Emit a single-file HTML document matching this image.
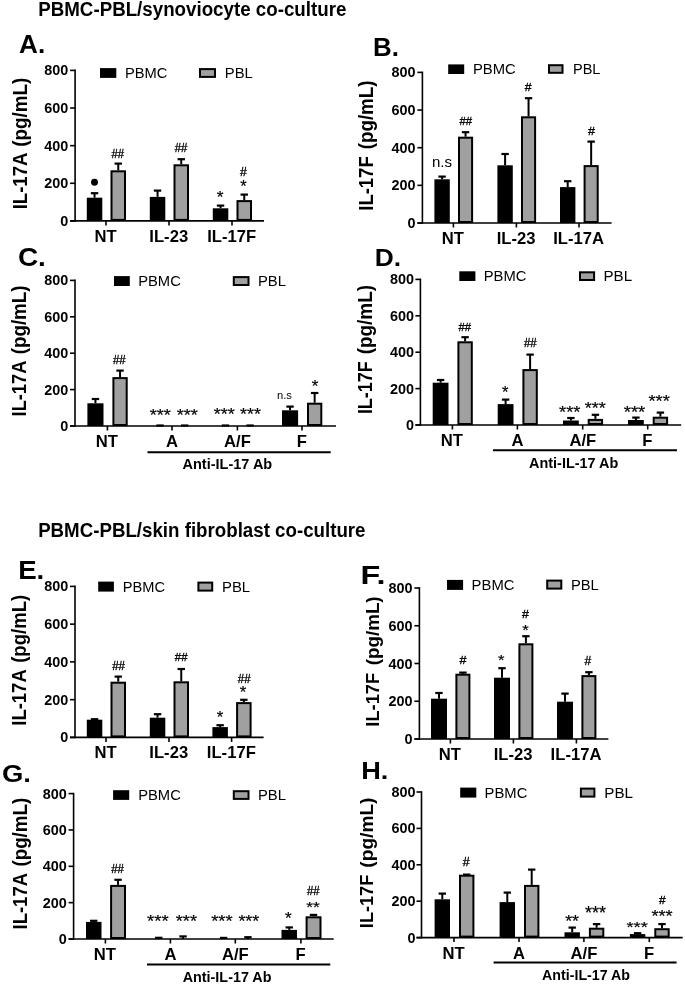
<!DOCTYPE html>
<html><head><meta charset="utf-8"><style>
html,body{margin:0;padding:0;background:#fff;}
body{width:685px;height:985px;overflow:hidden;}
svg{display:block;font-family:"Liberation Sans", sans-serif;will-change:transform;}
</style></head><body>
<svg width="685" height="985" viewBox="0 0 685 985">

<line x1="75.1" y1="69.6" x2="75.1" y2="221.7" stroke="#000" stroke-width="1.6"/>
<line x1="70.1" y1="220.9" x2="75.1" y2="220.9" stroke="#000" stroke-width="1.6"/>
<line x1="70.1" y1="183.28" x2="75.1" y2="183.28" stroke="#000" stroke-width="1.6"/>
<line x1="70.1" y1="145.65" x2="75.1" y2="145.65" stroke="#000" stroke-width="1.6"/>
<line x1="70.1" y1="108.03" x2="75.1" y2="108.03" stroke="#000" stroke-width="1.6"/>
<line x1="70.1" y1="70.4" x2="75.1" y2="70.4" stroke="#000" stroke-width="1.6"/>
<line x1="70.1" y1="220.9" x2="264" y2="220.9" stroke="#000" stroke-width="1.6"/>
<line x1="106" y1="220.9" x2="106" y2="225.4" stroke="#000" stroke-width="1.6"/>
<line x1="169" y1="220.9" x2="169" y2="225.4" stroke="#000" stroke-width="1.6"/>
<line x1="232" y1="220.9" x2="232" y2="225.4" stroke="#000" stroke-width="1.6"/>
<text transform="translate(60.27,225.95) scale(0.9810,1)" font-size="14.700" font-weight="bold" fill="#000">0</text>
<text transform="translate(44.23,188.33) scale(0.9810,1)" font-size="14.700" font-weight="bold" fill="#000">200</text>
<text transform="translate(44.23,150.7) scale(0.9810,1)" font-size="14.700" font-weight="bold" fill="#000">400</text>
<text transform="translate(44.23,113.08) scale(0.9810,1)" font-size="14.700" font-weight="bold" fill="#000">600</text>
<text transform="translate(44.23,75.45) scale(0.9810,1)" font-size="14.700" font-weight="bold" fill="#000">800</text>
<line x1="94.55" y1="193.2" x2="94.55" y2="197.7" stroke="#000" stroke-width="2.0"/>
<line x1="90.85" y1="193.2" x2="98.25" y2="193.2" stroke="#000" stroke-width="2.2"/>
<rect x="87.8" y="198.7" width="13.5" height="21.2" fill="#000" stroke="#000" stroke-width="2.0"/>
<line x1="118.25" y1="163.6" x2="118.25" y2="170.3" stroke="#000" stroke-width="2.0"/>
<line x1="114.55" y1="163.6" x2="121.95" y2="163.6" stroke="#000" stroke-width="2.2"/>
<rect x="111.5" y="171.3" width="13.5" height="48.6" fill="#a0a0a0" stroke="#000" stroke-width="2.0"/>
<line x1="157.55" y1="190.6" x2="157.55" y2="196.9" stroke="#000" stroke-width="2.0"/>
<line x1="153.85" y1="190.6" x2="161.25" y2="190.6" stroke="#000" stroke-width="2.2"/>
<rect x="150.8" y="197.9" width="13.5" height="22" fill="#000" stroke="#000" stroke-width="2.0"/>
<line x1="181.25" y1="159.2" x2="181.25" y2="164.3" stroke="#000" stroke-width="2.0"/>
<line x1="177.55" y1="159.2" x2="184.95" y2="159.2" stroke="#000" stroke-width="2.2"/>
<rect x="174.5" y="165.3" width="13.5" height="54.6" fill="#a0a0a0" stroke="#000" stroke-width="2.0"/>
<line x1="220.55" y1="205.6" x2="220.55" y2="208.3" stroke="#000" stroke-width="2.0"/>
<line x1="216.85" y1="205.6" x2="224.25" y2="205.6" stroke="#000" stroke-width="2.2"/>
<rect x="213.8" y="209.3" width="13.5" height="10.6" fill="#000" stroke="#000" stroke-width="2.0"/>
<line x1="244.25" y1="194.6" x2="244.25" y2="200.1" stroke="#000" stroke-width="2.0"/>
<line x1="240.55" y1="194.6" x2="247.95" y2="194.6" stroke="#000" stroke-width="2.2"/>
<rect x="237.5" y="201.1" width="13.5" height="18.8" fill="#a0a0a0" stroke="#000" stroke-width="2.0"/>
<rect x="101" y="69.1" width="14.3" height="7.8" fill="#000" stroke="#000" stroke-width="2.0"/>
<rect x="200" y="69.1" width="15" height="7.8" fill="#a0a0a0" stroke="#000" stroke-width="2.0"/>
<text transform="translate(124.98,77.9) scale(0.9928,1)" font-size="14.836" font-weight="normal">PBMC</text>
<text transform="translate(224.77,77.9) scale(1.0025,1)" font-size="14.836" font-weight="normal">PBL</text>
<text transform="translate(94.43,242.4) scale(0.9700,1)" font-size="17.164" font-weight="bold">NT</text>
<text transform="translate(149.31,242.4) scale(0.9700,1)" font-size="17.164" font-weight="bold">IL-23</text>
<text transform="translate(207.21,242.4) scale(0.9700,1)" font-size="17.164" font-weight="bold">IL-17F</text>
<text transform="translate(26.5,209.35) rotate(-90) scale(0.9317,1)" font-size="19.927" font-weight="bold">IL-17A</text>
<text transform="translate(26.5,146.74) rotate(-90) scale(0.9445,1)" font-size="19.927" font-weight="bold">(pg/mL)</text>
<text transform="translate(19.05,52.5) scale(0.9811,1)" font-size="26.618" font-weight="bold" fill="#000">A.</text>
<circle cx="94.5" cy="182.2" r="3.45" fill="#000"/>
<text transform="translate(111.54,157.7) scale(0.9137,1)" font-size="12.409" font-weight="normal" fill="#000" stroke="#000" stroke-width="0.35">##</text>
<text transform="translate(174.64,152.3) scale(0.9471,1)" font-size="11.971" font-weight="normal" fill="#000" stroke="#000" stroke-width="0.35">##</text>
<text transform="translate(216.69,202.89) scale(1.0539,1)" font-size="16.571" font-weight="normal" fill="#000" stroke="#000" stroke-width="0.2">*</text>
<text transform="translate(240.21,192.3) scale(1.0205,1)" font-size="16.286" font-weight="normal" fill="#000" stroke="#000" stroke-width="0.2">*</text>
<text transform="translate(240.04,175.6) scale(1.0100,1)" font-size="12.117" font-weight="normal" fill="#000" stroke="#000" stroke-width="0.35">#</text>
<line x1="422.4" y1="71.6" x2="422.4" y2="223.8" stroke="#000" stroke-width="1.6"/>
<line x1="417.4" y1="223" x2="422.4" y2="223" stroke="#000" stroke-width="1.6"/>
<line x1="417.4" y1="185.35" x2="422.4" y2="185.35" stroke="#000" stroke-width="1.6"/>
<line x1="417.4" y1="147.7" x2="422.4" y2="147.7" stroke="#000" stroke-width="1.6"/>
<line x1="417.4" y1="110.05" x2="422.4" y2="110.05" stroke="#000" stroke-width="1.6"/>
<line x1="417.4" y1="72.4" x2="422.4" y2="72.4" stroke="#000" stroke-width="1.6"/>
<line x1="417.4" y1="223" x2="611.6" y2="223" stroke="#000" stroke-width="1.6"/>
<line x1="453.4" y1="223" x2="453.4" y2="227.5" stroke="#000" stroke-width="1.6"/>
<line x1="516.4" y1="223" x2="516.4" y2="227.5" stroke="#000" stroke-width="1.6"/>
<line x1="579" y1="223" x2="579" y2="227.5" stroke="#000" stroke-width="1.6"/>
<text transform="translate(407.57,228.05) scale(0.9810,1)" font-size="14.700" font-weight="bold" fill="#000">0</text>
<text transform="translate(391.53,190.4) scale(0.9810,1)" font-size="14.700" font-weight="bold" fill="#000">200</text>
<text transform="translate(391.53,152.75) scale(0.9810,1)" font-size="14.700" font-weight="bold" fill="#000">400</text>
<text transform="translate(391.53,115.1) scale(0.9810,1)" font-size="14.700" font-weight="bold" fill="#000">600</text>
<text transform="translate(391.53,77.45) scale(0.9810,1)" font-size="14.700" font-weight="bold" fill="#000">800</text>
<line x1="442.1" y1="176.6" x2="442.1" y2="179.3" stroke="#000" stroke-width="2.0"/>
<line x1="438.4" y1="176.6" x2="445.8" y2="176.6" stroke="#000" stroke-width="2.2"/>
<rect x="435.4" y="180.3" width="13.4" height="41.7" fill="#000" stroke="#000" stroke-width="2.0"/>
<line x1="465.55" y1="132.2" x2="465.55" y2="136.7" stroke="#000" stroke-width="2.0"/>
<line x1="461.85" y1="132.2" x2="469.25" y2="132.2" stroke="#000" stroke-width="2.2"/>
<rect x="459" y="137.7" width="13.1" height="84.3" fill="#a0a0a0" stroke="#000" stroke-width="2.0"/>
<line x1="505.1" y1="154" x2="505.1" y2="165.3" stroke="#000" stroke-width="2.0"/>
<line x1="501.4" y1="154" x2="508.8" y2="154" stroke="#000" stroke-width="2.2"/>
<rect x="498.4" y="166.3" width="13.4" height="55.7" fill="#000" stroke="#000" stroke-width="2.0"/>
<line x1="528.55" y1="98.2" x2="528.55" y2="116.3" stroke="#000" stroke-width="2.0"/>
<line x1="524.85" y1="98.2" x2="532.25" y2="98.2" stroke="#000" stroke-width="2.2"/>
<rect x="522" y="117.3" width="13.1" height="104.7" fill="#a0a0a0" stroke="#000" stroke-width="2.0"/>
<line x1="567.7" y1="181.2" x2="567.7" y2="187.1" stroke="#000" stroke-width="2.0"/>
<line x1="564" y1="181.2" x2="571.4" y2="181.2" stroke="#000" stroke-width="2.2"/>
<rect x="561" y="188.1" width="13.4" height="33.9" fill="#000" stroke="#000" stroke-width="2.0"/>
<line x1="591.15" y1="141.6" x2="591.15" y2="165.1" stroke="#000" stroke-width="2.0"/>
<line x1="587.45" y1="141.6" x2="594.85" y2="141.6" stroke="#000" stroke-width="2.2"/>
<rect x="584.6" y="166.1" width="13.1" height="55.9" fill="#a0a0a0" stroke="#000" stroke-width="2.0"/>
<rect x="449.2" y="65.4" width="14" height="7.6" fill="#000" stroke="#000" stroke-width="2.0"/>
<rect x="549" y="65.2" width="13.5" height="7.6" fill="#a0a0a0" stroke="#000" stroke-width="2.0"/>
<text transform="translate(472.98,74) scale(1.0201,1)" font-size="14.545" font-weight="normal">PBMC</text>
<text transform="translate(573,74) scale(0.9993,1)" font-size="14.545" font-weight="normal">PBL</text>
<text transform="translate(441.83,244.2) scale(0.9700,1)" font-size="17.164" font-weight="bold">NT</text>
<text transform="translate(496.71,244.2) scale(0.9700,1)" font-size="17.164" font-weight="bold">IL-23</text>
<text transform="translate(553.22,244.2) scale(0.9700,1)" font-size="17.164" font-weight="bold">IL-17A</text>
<text transform="translate(372.8,210.75) rotate(-90) scale(0.9424,1)" font-size="19.636" font-weight="bold">IL-17F</text>
<text transform="translate(372.8,149.24) rotate(-90) scale(0.9557,1)" font-size="19.636" font-weight="bold">(pg/mL)</text>
<text transform="translate(373.05,55.6) scale(0.9836,1)" font-size="26.327" font-weight="bold" fill="#000">B.</text>
<text transform="translate(431.88,166.96) scale(1.0459,1)" font-size="14.429" font-weight="normal" fill="#000">n.s</text>
<text transform="translate(459.44,125.2) scale(0.9588,1)" font-size="11.825" font-weight="normal" fill="#000" stroke="#000" stroke-width="0.35">##</text>
<text transform="translate(524.84,91.4) scale(1.0747,1)" font-size="11.387" font-weight="normal" fill="#000" stroke="#000" stroke-width="0.35">#</text>
<text transform="translate(588.04,135.1) scale(1.0658,1)" font-size="11.825" font-weight="normal" fill="#000" stroke="#000" stroke-width="0.35">#</text>
<line x1="75" y1="279.6" x2="75" y2="426.8" stroke="#000" stroke-width="1.6"/>
<line x1="70" y1="426" x2="75" y2="426" stroke="#000" stroke-width="1.6"/>
<line x1="70" y1="389.6" x2="75" y2="389.6" stroke="#000" stroke-width="1.6"/>
<line x1="70" y1="353.2" x2="75" y2="353.2" stroke="#000" stroke-width="1.6"/>
<line x1="70" y1="316.8" x2="75" y2="316.8" stroke="#000" stroke-width="1.6"/>
<line x1="70" y1="280.4" x2="75" y2="280.4" stroke="#000" stroke-width="1.6"/>
<line x1="70" y1="426" x2="336" y2="426" stroke="#000" stroke-width="1.6"/>
<line x1="107.4" y1="426" x2="107.4" y2="430.5" stroke="#000" stroke-width="1.6"/>
<line x1="172" y1="426" x2="172" y2="430.5" stroke="#000" stroke-width="1.6"/>
<line x1="237.4" y1="426" x2="237.4" y2="430.5" stroke="#000" stroke-width="1.6"/>
<line x1="302" y1="426" x2="302" y2="430.5" stroke="#000" stroke-width="1.6"/>
<text transform="translate(60.27,431.05) scale(0.9810,1)" font-size="14.700" font-weight="bold" fill="#000">0</text>
<text transform="translate(44.23,394.65) scale(0.9810,1)" font-size="14.700" font-weight="bold" fill="#000">200</text>
<text transform="translate(44.23,358.25) scale(0.9810,1)" font-size="14.700" font-weight="bold" fill="#000">400</text>
<text transform="translate(44.23,321.85) scale(0.9810,1)" font-size="14.700" font-weight="bold" fill="#000">600</text>
<text transform="translate(44.23,285.45) scale(0.9810,1)" font-size="14.700" font-weight="bold" fill="#000">800</text>
<line x1="95.45" y1="399" x2="95.45" y2="403.3" stroke="#000" stroke-width="2.0"/>
<line x1="91.75" y1="399" x2="99.15" y2="399" stroke="#000" stroke-width="2.2"/>
<rect x="88.4" y="404.3" width="14.1" height="20.7" fill="#000" stroke="#000" stroke-width="2.0"/>
<line x1="120.05" y1="370.6" x2="120.05" y2="377.1" stroke="#000" stroke-width="2.0"/>
<line x1="116.35" y1="370.6" x2="123.75" y2="370.6" stroke="#000" stroke-width="2.2"/>
<rect x="113.4" y="378.1" width="13.3" height="46.9" fill="#a0a0a0" stroke="#000" stroke-width="2.0"/>
<line x1="156.35" y1="425.5" x2="163.75" y2="425.5" stroke="#000" stroke-width="2.2"/>
<line x1="180.95" y1="425.5" x2="188.35" y2="425.5" stroke="#000" stroke-width="2.2"/>
<line x1="221.75" y1="425.5" x2="229.15" y2="425.5" stroke="#000" stroke-width="2.2"/>
<line x1="246.35" y1="425.5" x2="253.75" y2="425.5" stroke="#000" stroke-width="2.2"/>
<line x1="290.05" y1="406.6" x2="290.05" y2="410.3" stroke="#000" stroke-width="2.0"/>
<line x1="286.35" y1="406.6" x2="293.75" y2="406.6" stroke="#000" stroke-width="2.2"/>
<rect x="283" y="411.3" width="14.1" height="13.7" fill="#000" stroke="#000" stroke-width="2.0"/>
<line x1="314.65" y1="393" x2="314.65" y2="402.7" stroke="#000" stroke-width="2.0"/>
<line x1="310.95" y1="393" x2="318.35" y2="393" stroke="#000" stroke-width="2.2"/>
<rect x="308" y="403.7" width="13.3" height="21.3" fill="#a0a0a0" stroke="#000" stroke-width="2.0"/>
<rect x="115" y="277.1" width="13.8" height="7.9" fill="#000" stroke="#000" stroke-width="2.0"/>
<rect x="233.8" y="277.1" width="14.7" height="7.9" fill="#a0a0a0" stroke="#000" stroke-width="2.0"/>
<text transform="translate(138.18,285.9) scale(1.0051,1)" font-size="14.691" font-weight="normal">PBMC</text>
<text transform="translate(257.88,285.9) scale(1.0086,1)" font-size="14.691" font-weight="normal">PBL</text>
<text transform="translate(95.83,447.4) scale(0.9700,1)" font-size="17.164" font-weight="bold">NT</text>
<text transform="translate(166.01,447.4) scale(0.9700,1)" font-size="17.164" font-weight="bold">A</text>
<text transform="translate(224.08,447.4) scale(0.9700,1)" font-size="17.164" font-weight="bold">A/F</text>
<text transform="translate(296.65,447.4) scale(0.9700,1)" font-size="17.164" font-weight="bold">F</text>
<text transform="translate(26.4,416.43) rotate(-90) scale(0.9232,1)" font-size="19.782" font-weight="bold">IL-17A</text>
<text transform="translate(26.4,354.24) rotate(-90) scale(0.9486,1)" font-size="19.782" font-weight="bold">(pg/mL)</text>
<text transform="translate(17.88,266.03) scale(1.0541,1)" font-size="26.572" font-weight="bold" fill="#000">C.</text>
<line x1="147.5" y1="452.3" x2="330.7" y2="452.3" stroke="#000" stroke-width="2"/>
<text transform="translate(182.44,469.4) scale(0.9696,1)" font-size="14.982" font-weight="bold">Anti-IL-17 Ab</text>
<text transform="translate(113.04,364.1) scale(0.9137,1)" font-size="12.409" font-weight="normal" fill="#000" stroke="#000" stroke-width="0.35">##</text>
<text transform="translate(149.68,420.99) scale(1.0977,1)" font-size="16.571" font-weight="normal" fill="#000" stroke="#000" stroke-width="0.2">***</text>
<text transform="translate(176.68,420.99) scale(1.0977,1)" font-size="16.571" font-weight="normal" fill="#000" stroke="#000" stroke-width="0.2">***</text>
<text transform="translate(213.68,419.59) scale(1.0686,1)" font-size="16.857" font-weight="normal" fill="#000" stroke="#000" stroke-width="0.2">***</text>
<text transform="translate(240.09,419.59) scale(1.0581,1)" font-size="16.857" font-weight="normal" fill="#000" stroke="#000" stroke-width="0.2">***</text>
<text transform="translate(277.04,398.59) scale(1.0217,1)" font-size="10.959" font-weight="normal" fill="#000">n.s</text>
<text transform="translate(311.7,392.29) scale(0.9859,1)" font-size="17.143" font-weight="normal" fill="#000" stroke="#000" stroke-width="0.2">*</text>
<line x1="420.4" y1="278.6" x2="420.4" y2="425.8" stroke="#000" stroke-width="1.6"/>
<line x1="415.4" y1="425" x2="420.4" y2="425" stroke="#000" stroke-width="1.6"/>
<line x1="415.4" y1="388.6" x2="420.4" y2="388.6" stroke="#000" stroke-width="1.6"/>
<line x1="415.4" y1="352.2" x2="420.4" y2="352.2" stroke="#000" stroke-width="1.6"/>
<line x1="415.4" y1="315.8" x2="420.4" y2="315.8" stroke="#000" stroke-width="1.6"/>
<line x1="415.4" y1="279.4" x2="420.4" y2="279.4" stroke="#000" stroke-width="1.6"/>
<line x1="415.4" y1="425" x2="681.2" y2="425" stroke="#000" stroke-width="1.6"/>
<line x1="452.4" y1="425" x2="452.4" y2="429.5" stroke="#000" stroke-width="1.6"/>
<line x1="517.4" y1="425" x2="517.4" y2="429.5" stroke="#000" stroke-width="1.6"/>
<line x1="582.7" y1="425" x2="582.7" y2="429.5" stroke="#000" stroke-width="1.6"/>
<line x1="647.7" y1="425" x2="647.7" y2="429.5" stroke="#000" stroke-width="1.6"/>
<text transform="translate(405.97,430.05) scale(0.9810,1)" font-size="14.700" font-weight="bold" fill="#000">0</text>
<text transform="translate(389.93,393.65) scale(0.9810,1)" font-size="14.700" font-weight="bold" fill="#000">200</text>
<text transform="translate(389.93,357.25) scale(0.9810,1)" font-size="14.700" font-weight="bold" fill="#000">400</text>
<text transform="translate(389.93,320.85) scale(0.9810,1)" font-size="14.700" font-weight="bold" fill="#000">600</text>
<text transform="translate(389.93,284.45) scale(0.9810,1)" font-size="14.700" font-weight="bold" fill="#000">800</text>
<line x1="440.6" y1="380" x2="440.6" y2="382.7" stroke="#000" stroke-width="2.0"/>
<line x1="436.9" y1="380" x2="444.3" y2="380" stroke="#000" stroke-width="2.2"/>
<rect x="433.7" y="383.7" width="13.8" height="40.3" fill="#000" stroke="#000" stroke-width="2.0"/>
<line x1="465.1" y1="337.2" x2="465.1" y2="341.3" stroke="#000" stroke-width="2.0"/>
<line x1="461.4" y1="337.2" x2="468.8" y2="337.2" stroke="#000" stroke-width="2.2"/>
<rect x="458.4" y="342.3" width="13.4" height="81.7" fill="#a0a0a0" stroke="#000" stroke-width="2.0"/>
<line x1="505.6" y1="399.6" x2="505.6" y2="404.1" stroke="#000" stroke-width="2.0"/>
<line x1="501.9" y1="399.6" x2="509.3" y2="399.6" stroke="#000" stroke-width="2.2"/>
<rect x="498.7" y="405.1" width="13.8" height="18.9" fill="#000" stroke="#000" stroke-width="2.0"/>
<line x1="530.1" y1="354.6" x2="530.1" y2="369.1" stroke="#000" stroke-width="2.0"/>
<line x1="526.4" y1="354.6" x2="533.8" y2="354.6" stroke="#000" stroke-width="2.2"/>
<rect x="523.4" y="370.1" width="13.4" height="53.9" fill="#a0a0a0" stroke="#000" stroke-width="2.0"/>
<line x1="570.9" y1="418" x2="570.9" y2="420.5" stroke="#000" stroke-width="2.0"/>
<line x1="567.2" y1="418" x2="574.6" y2="418" stroke="#000" stroke-width="2.2"/>
<rect x="564" y="421.5" width="13.8" height="2.5" fill="#000" stroke="#000" stroke-width="2.0"/>
<line x1="595.4" y1="414.8" x2="595.4" y2="418.9" stroke="#000" stroke-width="2.0"/>
<line x1="591.7" y1="414.8" x2="599.1" y2="414.8" stroke="#000" stroke-width="2.2"/>
<rect x="588.7" y="419.9" width="13.4" height="4.1" fill="#a0a0a0" stroke="#000" stroke-width="2.0"/>
<line x1="635.9" y1="417.6" x2="635.9" y2="420" stroke="#000" stroke-width="2.0"/>
<line x1="632.2" y1="417.6" x2="639.6" y2="417.6" stroke="#000" stroke-width="2.2"/>
<rect x="629" y="421" width="13.8" height="3" fill="#000" stroke="#000" stroke-width="2.0"/>
<line x1="660.4" y1="412.6" x2="660.4" y2="416.7" stroke="#000" stroke-width="2.0"/>
<line x1="656.7" y1="412.6" x2="664.1" y2="412.6" stroke="#000" stroke-width="2.2"/>
<rect x="653.7" y="417.7" width="13.4" height="6.3" fill="#a0a0a0" stroke="#000" stroke-width="2.0"/>
<rect x="460.3" y="272.3" width="14.1" height="7.7" fill="#000" stroke="#000" stroke-width="2.0"/>
<rect x="580" y="272.3" width="14.1" height="7.7" fill="#a0a0a0" stroke="#000" stroke-width="2.0"/>
<text transform="translate(483.78,280.9) scale(1.0051,1)" font-size="14.691" font-weight="normal">PBMC</text>
<text transform="translate(603.45,280.9) scale(1.0316,1)" font-size="14.691" font-weight="normal">PBL</text>
<text transform="translate(440.83,446.2) scale(0.9700,1)" font-size="17.164" font-weight="bold">NT</text>
<text transform="translate(511.41,446.2) scale(0.9700,1)" font-size="17.164" font-weight="bold">A</text>
<text transform="translate(569.38,446.2) scale(0.9700,1)" font-size="17.164" font-weight="bold">A/F</text>
<text transform="translate(642.35,446.2) scale(0.9700,1)" font-size="17.164" font-weight="bold">F</text>
<text transform="translate(371.6,414.11) rotate(-90) scale(0.9256,1)" font-size="19.345" font-weight="bold">IL-17F</text>
<text transform="translate(371.6,354.35) rotate(-90) scale(0.9802,1)" font-size="19.345" font-weight="bold">(pg/mL)</text>
<text transform="translate(374.82,266) scale(1.1326,1)" font-size="23.273" font-weight="bold" fill="#000">D.</text>
<line x1="493" y1="450.2" x2="677" y2="450.2" stroke="#000" stroke-width="2"/>
<text transform="translate(529.04,467.9) scale(0.9641,1)" font-size="14.982" font-weight="bold">Anti-IL-17 Ab</text>
<text transform="translate(458.54,331.3) scale(0.9708,1)" font-size="11.679" font-weight="normal" fill="#000" stroke="#000" stroke-width="0.35">##</text>
<text transform="translate(502.11,398.3) scale(1.0387,1)" font-size="16.000" font-weight="normal" fill="#000" stroke="#000" stroke-width="0.2">*</text>
<text transform="translate(523.94,347.2) scale(0.9547,1)" font-size="11.971" font-weight="normal" fill="#000" stroke="#000" stroke-width="0.35">##</text>
<text transform="translate(559.08,417.89) scale(1.0714,1)" font-size="17.143" font-weight="normal" fill="#000" stroke="#000" stroke-width="0.2">***</text>
<text transform="translate(584.68,413.89) scale(1.0508,1)" font-size="17.143" font-weight="normal" fill="#000" stroke="#000" stroke-width="0.2">***</text>
<text transform="translate(623.68,417.89) scale(1.0817,1)" font-size="17.143" font-weight="normal" fill="#000" stroke="#000" stroke-width="0.2">***</text>
<text transform="translate(648.48,407.29) scale(1.0714,1)" font-size="17.143" font-weight="normal" fill="#000" stroke="#000" stroke-width="0.2">***</text>
<line x1="75" y1="585.6" x2="75" y2="738.2" stroke="#000" stroke-width="1.6"/>
<line x1="70" y1="737.4" x2="75" y2="737.4" stroke="#000" stroke-width="1.6"/>
<line x1="70" y1="699.65" x2="75" y2="699.65" stroke="#000" stroke-width="1.6"/>
<line x1="70" y1="661.9" x2="75" y2="661.9" stroke="#000" stroke-width="1.6"/>
<line x1="70" y1="624.15" x2="75" y2="624.15" stroke="#000" stroke-width="1.6"/>
<line x1="70" y1="586.4" x2="75" y2="586.4" stroke="#000" stroke-width="1.6"/>
<line x1="70" y1="737.4" x2="263.6" y2="737.4" stroke="#000" stroke-width="1.6"/>
<line x1="106" y1="737.4" x2="106" y2="741.9" stroke="#000" stroke-width="1.6"/>
<line x1="169" y1="737.4" x2="169" y2="741.9" stroke="#000" stroke-width="1.6"/>
<line x1="231.6" y1="737.4" x2="231.6" y2="741.9" stroke="#000" stroke-width="1.6"/>
<text transform="translate(60.27,742.45) scale(0.9810,1)" font-size="14.700" font-weight="bold" fill="#000">0</text>
<text transform="translate(44.23,704.7) scale(0.9810,1)" font-size="14.700" font-weight="bold" fill="#000">200</text>
<text transform="translate(44.23,666.95) scale(0.9810,1)" font-size="14.700" font-weight="bold" fill="#000">400</text>
<text transform="translate(44.23,629.2) scale(0.9810,1)" font-size="14.700" font-weight="bold" fill="#000">600</text>
<text transform="translate(44.23,591.45) scale(0.9810,1)" font-size="14.700" font-weight="bold" fill="#000">800</text>
<line x1="94.55" y1="719.2" x2="94.55" y2="719.7" stroke="#000" stroke-width="2.0"/>
<line x1="90.85" y1="719.2" x2="98.25" y2="719.2" stroke="#000" stroke-width="2.2"/>
<rect x="87.8" y="720.7" width="13.5" height="15.7" fill="#000" stroke="#000" stroke-width="2.0"/>
<line x1="118.25" y1="676.6" x2="118.25" y2="681.7" stroke="#000" stroke-width="2.0"/>
<line x1="114.55" y1="676.6" x2="121.95" y2="676.6" stroke="#000" stroke-width="2.2"/>
<rect x="111.5" y="682.7" width="13.5" height="53.7" fill="#a0a0a0" stroke="#000" stroke-width="2.0"/>
<line x1="157.55" y1="714.2" x2="157.55" y2="717.7" stroke="#000" stroke-width="2.0"/>
<line x1="153.85" y1="714.2" x2="161.25" y2="714.2" stroke="#000" stroke-width="2.2"/>
<rect x="150.8" y="718.7" width="13.5" height="17.7" fill="#000" stroke="#000" stroke-width="2.0"/>
<line x1="181.25" y1="669" x2="181.25" y2="681.3" stroke="#000" stroke-width="2.0"/>
<line x1="177.55" y1="669" x2="184.95" y2="669" stroke="#000" stroke-width="2.2"/>
<rect x="174.5" y="682.3" width="13.5" height="54.1" fill="#a0a0a0" stroke="#000" stroke-width="2.0"/>
<line x1="220.15" y1="725.2" x2="220.15" y2="727.1" stroke="#000" stroke-width="2.0"/>
<line x1="216.45" y1="725.2" x2="223.85" y2="725.2" stroke="#000" stroke-width="2.2"/>
<rect x="213.4" y="728.1" width="13.5" height="8.3" fill="#000" stroke="#000" stroke-width="2.0"/>
<line x1="243.85" y1="699.8" x2="243.85" y2="702.1" stroke="#000" stroke-width="2.0"/>
<line x1="240.15" y1="699.8" x2="247.55" y2="699.8" stroke="#000" stroke-width="2.2"/>
<rect x="237.1" y="703.1" width="13.5" height="33.3" fill="#a0a0a0" stroke="#000" stroke-width="2.0"/>
<rect x="99.2" y="582.6" width="13.7" height="8" fill="#000" stroke="#000" stroke-width="2.0"/>
<rect x="198.4" y="582.6" width="13.8" height="8" fill="#a0a0a0" stroke="#000" stroke-width="2.0"/>
<text transform="translate(122.79,591.5) scale(0.9952,1)" font-size="14.691" font-weight="normal">PBMC</text>
<text transform="translate(221.97,591.5) scale(1.0162,1)" font-size="14.691" font-weight="normal">PBL</text>
<text transform="translate(94.43,758.2) scale(0.9700,1)" font-size="17.164" font-weight="bold">NT</text>
<text transform="translate(149.31,758.2) scale(0.9700,1)" font-size="17.164" font-weight="bold">IL-23</text>
<text transform="translate(206.81,758.2) scale(0.9700,1)" font-size="17.164" font-weight="bold">IL-17F</text>
<text transform="translate(26.4,725.75) rotate(-90) scale(0.9351,1)" font-size="19.782" font-weight="bold">IL-17A</text>
<text transform="translate(26.4,662.83) rotate(-90) scale(0.9387,1)" font-size="19.782" font-weight="bold">(pg/mL)</text>
<text transform="translate(18.13,578.6) scale(1.0802,1)" font-size="25.600" font-weight="bold" fill="#000">E.</text>
<text transform="translate(112.14,669.5) scale(0.9394,1)" font-size="12.263" font-weight="normal" fill="#000" stroke="#000" stroke-width="0.35">##</text>
<text transform="translate(174.84,661.3) scale(0.9588,1)" font-size="11.825" font-weight="normal" fill="#000" stroke="#000" stroke-width="0.35">##</text>
<text transform="translate(216.7,722.8) scale(1.0755,1)" font-size="15.714" font-weight="normal" fill="#000" stroke="#000" stroke-width="0.2">*</text>
<text transform="translate(239.7,698.4) scale(1.0755,1)" font-size="15.714" font-weight="normal" fill="#000" stroke="#000" stroke-width="0.2">*</text>
<text transform="translate(237.84,683.1) scale(0.9210,1)" font-size="12.409" font-weight="normal" fill="#000" stroke="#000" stroke-width="0.35">##</text>
<line x1="419.4" y1="587.2" x2="419.4" y2="739.8" stroke="#000" stroke-width="1.6"/>
<line x1="414.4" y1="739" x2="419.4" y2="739" stroke="#000" stroke-width="1.6"/>
<line x1="414.4" y1="701.25" x2="419.4" y2="701.25" stroke="#000" stroke-width="1.6"/>
<line x1="414.4" y1="663.5" x2="419.4" y2="663.5" stroke="#000" stroke-width="1.6"/>
<line x1="414.4" y1="625.75" x2="419.4" y2="625.75" stroke="#000" stroke-width="1.6"/>
<line x1="414.4" y1="588" x2="419.4" y2="588" stroke="#000" stroke-width="1.6"/>
<line x1="414.4" y1="739" x2="608.4" y2="739" stroke="#000" stroke-width="1.6"/>
<line x1="450.4" y1="739" x2="450.4" y2="743.5" stroke="#000" stroke-width="1.6"/>
<line x1="513.4" y1="739" x2="513.4" y2="743.5" stroke="#000" stroke-width="1.6"/>
<line x1="576.4" y1="739" x2="576.4" y2="743.5" stroke="#000" stroke-width="1.6"/>
<text transform="translate(404.57,744.05) scale(0.9810,1)" font-size="14.700" font-weight="bold" fill="#000">0</text>
<text transform="translate(388.53,706.3) scale(0.9810,1)" font-size="14.700" font-weight="bold" fill="#000">200</text>
<text transform="translate(388.53,668.55) scale(0.9810,1)" font-size="14.700" font-weight="bold" fill="#000">400</text>
<text transform="translate(388.53,630.8) scale(0.9810,1)" font-size="14.700" font-weight="bold" fill="#000">600</text>
<text transform="translate(388.53,593.05) scale(0.9810,1)" font-size="14.700" font-weight="bold" fill="#000">800</text>
<line x1="439" y1="693" x2="439" y2="698.7" stroke="#000" stroke-width="2.0"/>
<line x1="435.3" y1="693" x2="442.7" y2="693" stroke="#000" stroke-width="2.2"/>
<rect x="432" y="699.7" width="14" height="38.3" fill="#000" stroke="#000" stroke-width="2.0"/>
<line x1="462.9" y1="672.6" x2="462.9" y2="673.7" stroke="#000" stroke-width="2.0"/>
<line x1="459.2" y1="672.6" x2="466.6" y2="672.6" stroke="#000" stroke-width="2.2"/>
<rect x="456.4" y="674.7" width="13" height="63.3" fill="#a0a0a0" stroke="#000" stroke-width="2.0"/>
<line x1="502" y1="668.2" x2="502" y2="677.7" stroke="#000" stroke-width="2.0"/>
<line x1="498.3" y1="668.2" x2="505.7" y2="668.2" stroke="#000" stroke-width="2.2"/>
<rect x="495" y="678.7" width="14" height="59.3" fill="#000" stroke="#000" stroke-width="2.0"/>
<line x1="525.9" y1="636.2" x2="525.9" y2="643.3" stroke="#000" stroke-width="2.0"/>
<line x1="522.2" y1="636.2" x2="529.6" y2="636.2" stroke="#000" stroke-width="2.2"/>
<rect x="519.4" y="644.3" width="13" height="93.7" fill="#a0a0a0" stroke="#000" stroke-width="2.0"/>
<line x1="565" y1="693.6" x2="565" y2="701.7" stroke="#000" stroke-width="2.0"/>
<line x1="561.3" y1="693.6" x2="568.7" y2="693.6" stroke="#000" stroke-width="2.2"/>
<rect x="558" y="702.7" width="14" height="35.3" fill="#000" stroke="#000" stroke-width="2.0"/>
<line x1="588.9" y1="672.2" x2="588.9" y2="675.1" stroke="#000" stroke-width="2.0"/>
<line x1="585.2" y1="672.2" x2="592.6" y2="672.2" stroke="#000" stroke-width="2.2"/>
<rect x="582.4" y="676.1" width="13" height="61.9" fill="#a0a0a0" stroke="#000" stroke-width="2.0"/>
<rect x="448" y="580.9" width="14.1" height="8" fill="#000" stroke="#000" stroke-width="2.0"/>
<rect x="547.2" y="580.6" width="14.1" height="8" fill="#a0a0a0" stroke="#000" stroke-width="2.0"/>
<text transform="translate(471.57,589.8) scale(0.9928,1)" font-size="14.982" font-weight="normal">PBMC</text>
<text transform="translate(570.88,589.8) scale(0.9852,1)" font-size="14.982" font-weight="normal">PBL</text>
<text transform="translate(438.83,760.2) scale(0.9700,1)" font-size="17.164" font-weight="bold">NT</text>
<text transform="translate(493.71,760.2) scale(0.9700,1)" font-size="17.164" font-weight="bold">IL-23</text>
<text transform="translate(550.62,760.2) scale(0.9700,1)" font-size="17.164" font-weight="bold">IL-17A</text>
<text transform="translate(378.5,726.63) rotate(-90) scale(0.9982,1)" font-size="18.327" font-weight="bold">IL-17F</text>
<text transform="translate(378.5,665.14) rotate(-90) scale(1.0239,1)" font-size="18.327" font-weight="bold">(pg/mL)</text>
<text transform="translate(360.41,584.4) scale(1.2791,1)" font-size="25.309" font-weight="bold" fill="#000">F.</text>
<text transform="translate(459.44,664.4) scale(1.0928,1)" font-size="11.533" font-weight="normal" fill="#000" stroke="#000" stroke-width="0.35">#</text>
<text transform="translate(497.91,664.61) scale(1.1186,1)" font-size="14.857" font-weight="normal" fill="#000" stroke="#000" stroke-width="0.2">*</text>
<text transform="translate(522.21,634.81) scale(1.1186,1)" font-size="14.857" font-weight="normal" fill="#000" stroke="#000" stroke-width="0.2">*</text>
<text transform="translate(521.94,618.4) scale(1.0907,1)" font-size="11.387" font-weight="normal" fill="#000" stroke="#000" stroke-width="0.35">#</text>
<text transform="translate(584.54,665.2) scale(0.9602,1)" font-size="12.555" font-weight="normal" fill="#000" stroke="#000" stroke-width="0.35">#</text>
<line x1="73.6" y1="792.8" x2="73.6" y2="939.8" stroke="#000" stroke-width="1.6"/>
<line x1="68.6" y1="939" x2="73.6" y2="939" stroke="#000" stroke-width="1.6"/>
<line x1="68.6" y1="902.65" x2="73.6" y2="902.65" stroke="#000" stroke-width="1.6"/>
<line x1="68.6" y1="866.3" x2="73.6" y2="866.3" stroke="#000" stroke-width="1.6"/>
<line x1="68.6" y1="829.95" x2="73.6" y2="829.95" stroke="#000" stroke-width="1.6"/>
<line x1="68.6" y1="793.6" x2="73.6" y2="793.6" stroke="#000" stroke-width="1.6"/>
<line x1="68.6" y1="939" x2="333.7" y2="939" stroke="#000" stroke-width="1.6"/>
<line x1="105.4" y1="939" x2="105.4" y2="943.5" stroke="#000" stroke-width="1.6"/>
<line x1="170.4" y1="939" x2="170.4" y2="943.5" stroke="#000" stroke-width="1.6"/>
<line x1="235.3" y1="939" x2="235.3" y2="943.5" stroke="#000" stroke-width="1.6"/>
<line x1="300.9" y1="939" x2="300.9" y2="943.5" stroke="#000" stroke-width="1.6"/>
<text transform="translate(58.77,944.05) scale(0.9810,1)" font-size="14.700" font-weight="bold" fill="#000">0</text>
<text transform="translate(42.73,907.7) scale(0.9810,1)" font-size="14.700" font-weight="bold" fill="#000">200</text>
<text transform="translate(42.73,871.35) scale(0.9810,1)" font-size="14.700" font-weight="bold" fill="#000">400</text>
<text transform="translate(42.73,835) scale(0.9810,1)" font-size="14.700" font-weight="bold" fill="#000">600</text>
<text transform="translate(42.73,798.65) scale(0.9810,1)" font-size="14.700" font-weight="bold" fill="#000">800</text>
<line x1="93.75" y1="920.8" x2="93.75" y2="921.9" stroke="#000" stroke-width="2.0"/>
<line x1="90.05" y1="920.8" x2="97.45" y2="920.8" stroke="#000" stroke-width="2.2"/>
<rect x="87" y="922.9" width="13.5" height="15.1" fill="#000" stroke="#000" stroke-width="2.0"/>
<line x1="118.05" y1="879.8" x2="118.05" y2="884.9" stroke="#000" stroke-width="2.0"/>
<line x1="114.35" y1="879.8" x2="121.75" y2="879.8" stroke="#000" stroke-width="2.2"/>
<rect x="111.1" y="885.9" width="13.9" height="52.1" fill="#a0a0a0" stroke="#000" stroke-width="2.0"/>
<line x1="155.05" y1="937.8" x2="162.45" y2="937.8" stroke="#000" stroke-width="2.2"/>
<line x1="183.05" y1="936.4" x2="183.05" y2="939" stroke="#000" stroke-width="2.0"/>
<line x1="179.35" y1="936.4" x2="186.75" y2="936.4" stroke="#000" stroke-width="2.2"/>
<line x1="219.95" y1="937.9" x2="227.35" y2="937.9" stroke="#000" stroke-width="2.2"/>
<line x1="247.95" y1="937.2" x2="247.95" y2="939" stroke="#000" stroke-width="2.0"/>
<line x1="244.25" y1="937.2" x2="251.65" y2="937.2" stroke="#000" stroke-width="2.2"/>
<line x1="289.25" y1="927.4" x2="289.25" y2="929.9" stroke="#000" stroke-width="2.0"/>
<line x1="285.55" y1="927.4" x2="292.95" y2="927.4" stroke="#000" stroke-width="2.2"/>
<rect x="282.5" y="930.9" width="13.5" height="7.1" fill="#000" stroke="#000" stroke-width="2.0"/>
<line x1="313.55" y1="914.9" x2="313.55" y2="916.3" stroke="#000" stroke-width="2.0"/>
<line x1="309.85" y1="914.9" x2="317.25" y2="914.9" stroke="#000" stroke-width="2.2"/>
<rect x="306.6" y="917.3" width="13.9" height="20.7" fill="#a0a0a0" stroke="#000" stroke-width="2.0"/>
<rect x="114.1" y="791.2" width="14.1" height="7.7" fill="#000" stroke="#000" stroke-width="2.0"/>
<rect x="233.8" y="791.2" width="14.7" height="7.7" fill="#a0a0a0" stroke="#000" stroke-width="2.0"/>
<text transform="translate(138.18,799.8) scale(1.0051,1)" font-size="14.691" font-weight="normal">PBMC</text>
<text transform="translate(257.88,799.8) scale(1.0086,1)" font-size="14.691" font-weight="normal">PBL</text>
<text transform="translate(93.83,960.2) scale(0.9700,1)" font-size="17.164" font-weight="bold">NT</text>
<text transform="translate(164.41,960.2) scale(0.9700,1)" font-size="17.164" font-weight="bold">A</text>
<text transform="translate(221.98,960.2) scale(0.9700,1)" font-size="17.164" font-weight="bold">A/F</text>
<text transform="translate(295.55,960.2) scale(0.9700,1)" font-size="17.164" font-weight="bold">F</text>
<text transform="translate(26.6,929.45) rotate(-90) scale(0.9562,1)" font-size="19.345" font-weight="bold">IL-17A</text>
<text transform="translate(26.6,866.54) rotate(-90) scale(0.9700,1)" font-size="19.345" font-weight="bold">(pg/mL)</text>
<text transform="translate(1.9,782.07) scale(1.1911,1)" font-size="23.039" font-weight="bold" fill="#000">G.</text>
<line x1="147" y1="964.4" x2="330.3" y2="964.4" stroke="#000" stroke-width="2"/>
<text transform="translate(182.64,982.2) scale(0.9886,1)" font-size="14.545" font-weight="bold">Anti-IL-17 Ab</text>
<text transform="translate(111.24,873.3) scale(0.9547,1)" font-size="11.971" font-weight="normal" fill="#000" stroke="#000" stroke-width="0.35">##</text>
<text transform="translate(147.08,927.3) scale(1.1589,1)" font-size="16.000" font-weight="normal" fill="#000" stroke="#000" stroke-width="0.2">***</text>
<text transform="translate(175.78,927.3) scale(1.1369,1)" font-size="16.000" font-weight="normal" fill="#000" stroke="#000" stroke-width="0.2">***</text>
<text transform="translate(211.18,927.3) scale(1.1479,1)" font-size="16.000" font-weight="normal" fill="#000" stroke="#000" stroke-width="0.2">***</text>
<text transform="translate(238.39,927.3) scale(1.1203,1)" font-size="16.000" font-weight="normal" fill="#000" stroke="#000" stroke-width="0.2">***</text>
<text transform="translate(285.1,924.2) scale(1.0935,1)" font-size="15.714" font-weight="normal" fill="#000" stroke="#000" stroke-width="0.2">*</text>
<text transform="translate(306.29,912.01) scale(1.1310,1)" font-size="15.429" font-weight="normal" fill="#000" stroke="#000" stroke-width="0.2">**</text>
<text transform="translate(307.04,895.3) scale(0.9471,1)" font-size="11.971" font-weight="normal" fill="#000" stroke="#000" stroke-width="0.35">##</text>
<line x1="421.5" y1="791.2" x2="421.5" y2="938.4" stroke="#000" stroke-width="1.6"/>
<line x1="416.5" y1="937.6" x2="421.5" y2="937.6" stroke="#000" stroke-width="1.6"/>
<line x1="416.5" y1="901.2" x2="421.5" y2="901.2" stroke="#000" stroke-width="1.6"/>
<line x1="416.5" y1="864.8" x2="421.5" y2="864.8" stroke="#000" stroke-width="1.6"/>
<line x1="416.5" y1="828.4" x2="421.5" y2="828.4" stroke="#000" stroke-width="1.6"/>
<line x1="416.5" y1="792" x2="421.5" y2="792" stroke="#000" stroke-width="1.6"/>
<line x1="416.5" y1="937.6" x2="682.7" y2="937.6" stroke="#000" stroke-width="1.6"/>
<line x1="454" y1="937.6" x2="454" y2="942.1" stroke="#000" stroke-width="1.6"/>
<line x1="519" y1="937.6" x2="519" y2="942.1" stroke="#000" stroke-width="1.6"/>
<line x1="583.9" y1="937.6" x2="583.9" y2="942.1" stroke="#000" stroke-width="1.6"/>
<line x1="649.3" y1="937.6" x2="649.3" y2="942.1" stroke="#000" stroke-width="1.6"/>
<text transform="translate(407.57,942.65) scale(0.9810,1)" font-size="14.700" font-weight="bold" fill="#000">0</text>
<text transform="translate(391.53,906.25) scale(0.9810,1)" font-size="14.700" font-weight="bold" fill="#000">200</text>
<text transform="translate(391.53,869.85) scale(0.9810,1)" font-size="14.700" font-weight="bold" fill="#000">400</text>
<text transform="translate(391.53,833.45) scale(0.9810,1)" font-size="14.700" font-weight="bold" fill="#000">600</text>
<text transform="translate(391.53,797.05) scale(0.9810,1)" font-size="14.700" font-weight="bold" fill="#000">800</text>
<line x1="442.3" y1="893.6" x2="442.3" y2="899.3" stroke="#000" stroke-width="2.0"/>
<line x1="438.6" y1="893.6" x2="446" y2="893.6" stroke="#000" stroke-width="2.2"/>
<rect x="435.6" y="900.3" width="13.4" height="36.3" fill="#000" stroke="#000" stroke-width="2.0"/>
<line x1="466.7" y1="874.6" x2="466.7" y2="874.7" stroke="#000" stroke-width="2.0"/>
<line x1="463" y1="874.6" x2="470.4" y2="874.6" stroke="#000" stroke-width="2.2"/>
<rect x="460" y="875.7" width="13.4" height="60.9" fill="#a0a0a0" stroke="#000" stroke-width="2.0"/>
<line x1="507.3" y1="892.6" x2="507.3" y2="902.1" stroke="#000" stroke-width="2.0"/>
<line x1="503.6" y1="892.6" x2="511" y2="892.6" stroke="#000" stroke-width="2.2"/>
<rect x="500.6" y="903.1" width="13.4" height="33.5" fill="#000" stroke="#000" stroke-width="2.0"/>
<line x1="531.7" y1="869.6" x2="531.7" y2="884.9" stroke="#000" stroke-width="2.0"/>
<line x1="528" y1="869.6" x2="535.4" y2="869.6" stroke="#000" stroke-width="2.2"/>
<rect x="525" y="885.9" width="13.4" height="50.7" fill="#a0a0a0" stroke="#000" stroke-width="2.0"/>
<line x1="572.2" y1="927.6" x2="572.2" y2="932.3" stroke="#000" stroke-width="2.0"/>
<line x1="568.5" y1="927.6" x2="575.9" y2="927.6" stroke="#000" stroke-width="2.2"/>
<rect x="565.5" y="933.3" width="13.4" height="3.3" fill="#000" stroke="#000" stroke-width="2.0"/>
<line x1="596.6" y1="924.1" x2="596.6" y2="927.7" stroke="#000" stroke-width="2.0"/>
<line x1="592.9" y1="924.1" x2="600.3" y2="924.1" stroke="#000" stroke-width="2.2"/>
<rect x="589.9" y="928.7" width="13.4" height="7.9" fill="#a0a0a0" stroke="#000" stroke-width="2.0"/>
<line x1="637.6" y1="933.2" x2="637.6" y2="934.1" stroke="#000" stroke-width="2.0"/>
<line x1="633.9" y1="933.2" x2="641.3" y2="933.2" stroke="#000" stroke-width="2.2"/>
<rect x="630.9" y="935.1" width="13.4" height="1.5" fill="#000" stroke="#000" stroke-width="2.0"/>
<line x1="662" y1="924.1" x2="662" y2="928.2" stroke="#000" stroke-width="2.0"/>
<line x1="658.3" y1="924.1" x2="665.7" y2="924.1" stroke="#000" stroke-width="2.2"/>
<rect x="655.3" y="929.2" width="13.4" height="7.4" fill="#a0a0a0" stroke="#000" stroke-width="2.0"/>
<rect x="461.2" y="788.6" width="14.1" height="8" fill="#000" stroke="#000" stroke-width="2.0"/>
<rect x="580.9" y="788.6" width="13.5" height="8" fill="#a0a0a0" stroke="#000" stroke-width="2.0"/>
<text transform="translate(484.58,797.5) scale(1.0075,1)" font-size="14.691" font-weight="normal">PBMC</text>
<text transform="translate(604.25,797.5) scale(1.0354,1)" font-size="14.691" font-weight="normal">PBL</text>
<text transform="translate(442.43,959) scale(0.9700,1)" font-size="17.164" font-weight="bold">NT</text>
<text transform="translate(513.01,959) scale(0.9700,1)" font-size="17.164" font-weight="bold">A</text>
<text transform="translate(570.58,959) scale(0.9700,1)" font-size="17.164" font-weight="bold">A/F</text>
<text transform="translate(643.95,959) scale(0.9700,1)" font-size="17.164" font-weight="bold">F</text>
<text transform="translate(372.8,928.13) rotate(-90) scale(0.9455,1)" font-size="19.200" font-weight="bold">IL-17F</text>
<text transform="translate(372.8,867.66) rotate(-90) scale(0.9978,1)" font-size="19.200" font-weight="bold">(pg/mL)</text>
<text transform="translate(361.17,779.4) scale(1.0987,1)" font-size="24.727" font-weight="bold" fill="#000">H.</text>
<line x1="493.6" y1="962.5" x2="676.6" y2="962.5" stroke="#000" stroke-width="2"/>
<text transform="translate(542.04,980.2) scale(0.9796,1)" font-size="14.545" font-weight="bold">Anti-IL-17 Ab</text>
<text transform="translate(462.74,866.2) scale(1.0375,1)" font-size="11.971" font-weight="normal" fill="#000" stroke="#000" stroke-width="0.35">#</text>
<text transform="translate(565.19,927.3) scale(1.0880,1)" font-size="16.286" font-weight="normal" fill="#000" stroke="#000" stroke-width="0.2">**</text>
<text transform="translate(585.08,919.08) scale(1.0335,1)" font-size="17.429" font-weight="normal" fill="#000" stroke="#000" stroke-width="0.2">***</text>
<text transform="translate(626.48,931.81) scale(1.2362,1)" font-size="14.857" font-weight="normal" fill="#000" stroke="#000" stroke-width="0.2">***</text>
<text transform="translate(651.38,922.1) scale(1.1223,1)" font-size="16.286" font-weight="normal" fill="#000" stroke="#000" stroke-width="0.2">***</text>
<text transform="translate(659.04,904.3) scale(1.0562,1)" font-size="11.241" font-weight="normal" fill="#000" stroke="#000" stroke-width="0.35">#</text>
<text transform="translate(38.23,15.9) scale(0.9273,1)" font-size="20.218" font-weight="bold">PBMC-PBL/synoviocyte co-culture</text>
<text transform="translate(38.14,537) scale(0.9530,1)" font-size="19.636" font-weight="bold">PBMC-PBL/skin fibroblast co-culture</text>
</svg>
</body></html>
